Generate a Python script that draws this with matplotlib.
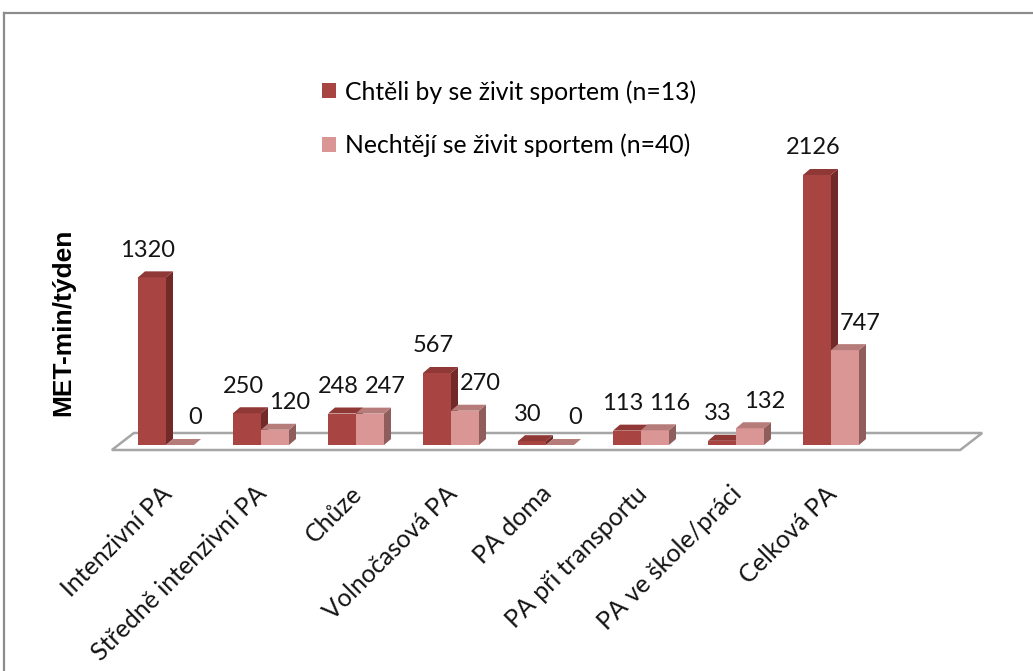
import matplotlib
matplotlib.use("Agg")
import matplotlib.pyplot as plt
from matplotlib.patches import Polygon, Patch
from matplotlib.lines import Line2D

categories = ["Intenzivní PA", "Středně intenzivní PA", "Chůze", "Volnočasová PA",
              "PA doma", "PA při transportu", "PA ve škole/práci", "Celková PA"]
series_names = ["Chtěli by se živit sportem (n=13)", "Nechtějí se živit sportem (n=40)"]
chteli = [1320, 250, 248, 567, 30, 113, 33, 2126]
nechteji = [0, 120, 247, 270, 0, 116, 132, 747]
y_label = "MET-min/týden"

# colours: front, side, top
dark = ("#A84542", "#712A28", "#8F3835")
light = ("#D99694", "#8E5D5C", "#B67C7A")

W, H = 1033, 671
fig = plt.figure(figsize=(W / 100, H / 100), dpi=100)
fig.patch.set_facecolor("white")

# axes geometry (pixels)
PXX = 95.0      # px per category
PXY = 0.127     # px per value unit
xlim = (-0.6, 8.6)
ylim = (-120, 2250)
left_px = 166 + xlim[0] * PXX
zero_px = 445
bottom_px = zero_px - ylim[0] * PXY
ax = fig.add_axes([left_px / W, 1 - bottom_px / H,
                   (xlim[1] - xlim[0]) * PXX / W, (ylim[1] - ylim[0]) * PXY / H])
ax.set_xlim(*xlim)
ax.set_ylim(*ylim)
ax.axis("off")

bw = 28 / PXX
DX = 7 / PXX
DY = 6 / PXY

# floor
f_front = -5 / PXY
f_back = f_front + 17 / PXY
fdx = 22 / PXX
fl, fr = -0.57, 8.36
floor = Polygon([(fl, f_front), (fr, f_front), (fr + fdx, f_back), (fl + fdx, f_back)],
                closed=True, facecolor="white", edgecolor="#A6A6A6", lw=1.8, zorder=1)
ax.add_patch(floor)


def bar3d(x0, h, cols, z):
    ax.bar(x0, h, width=bw, align="edge", color=cols[0], edgecolor="none", zorder=z)
    side = Polygon([(x0 + bw, 0), (x0 + bw + DX, DY), (x0 + bw + DX, h + DY), (x0 + bw, h)],
                   closed=True, facecolor=cols[1], edgecolor="none", zorder=z)
    top = Polygon([(x0, h), (x0 + DX, h + DY), (x0 + bw + DX, h + DY), (x0 + bw, h)],
                  closed=True, facecolor=cols[2], edgecolor="none", zorder=z)
    ax.add_patch(side)
    ax.add_patch(top)


lab_font = "Lato"
off = 27 / PXY
for i, (a, b) in enumerate(zip(chteli, nechteji)):
    bar3d(i - bw, a, dark, 2 + 2 * i)
    bar3d(i, b, light, 3 + 2 * i)
    ax.text(i - bw / 2 - 4 / PXX, a + off, str(a), ha="center", va="center",
            fontsize=17, family=lab_font, color="#141414", zorder=30)
    ax.text(i + bw / 2 + 15 / PXX, b + off, str(b), ha="center", va="center",
            fontsize=17, family=lab_font, color="#141414", zorder=30)
    ax.text(i + 2 / PXX, -(490 - zero_px) / PXY, categories[i], rotation=45, rotation_mode="anchor",
            ha="right", va="center", fontsize=18, family=lab_font, color="#141414")

fig.text(63 / W, 1 - 322 / H, y_label, rotation=90, ha="center", va="center",
         fontsize=19, fontweight="bold", family="Liberation Sans", color="black")

handles = [Patch(facecolor=dark[0], edgecolor="none"), Patch(facecolor=light[0], edgecolor="none")]
fig.legend(handles, series_names, loc="upper left", bbox_to_anchor=(322 / W, 1 - 80 / H),
           frameon=False, borderpad=0, borderaxespad=0, handlelength=0.55, handleheight=0.55,
           handletextpad=0.4, labelspacing=1.2, prop={"family": lab_font, "size": 17.8})

# outer border (top and left visible)
fig.add_artist(Line2D([4 / W, 1], [1 - 13 / H, 1 - 13 / H], color="#8C8C8C", lw=1.6))
fig.add_artist(Line2D([4 / W, 4 / W], [0, 1 - 13 / H], color="#8C8C8C", lw=1.6))

fig.savefig("out.png", dpi=100)
